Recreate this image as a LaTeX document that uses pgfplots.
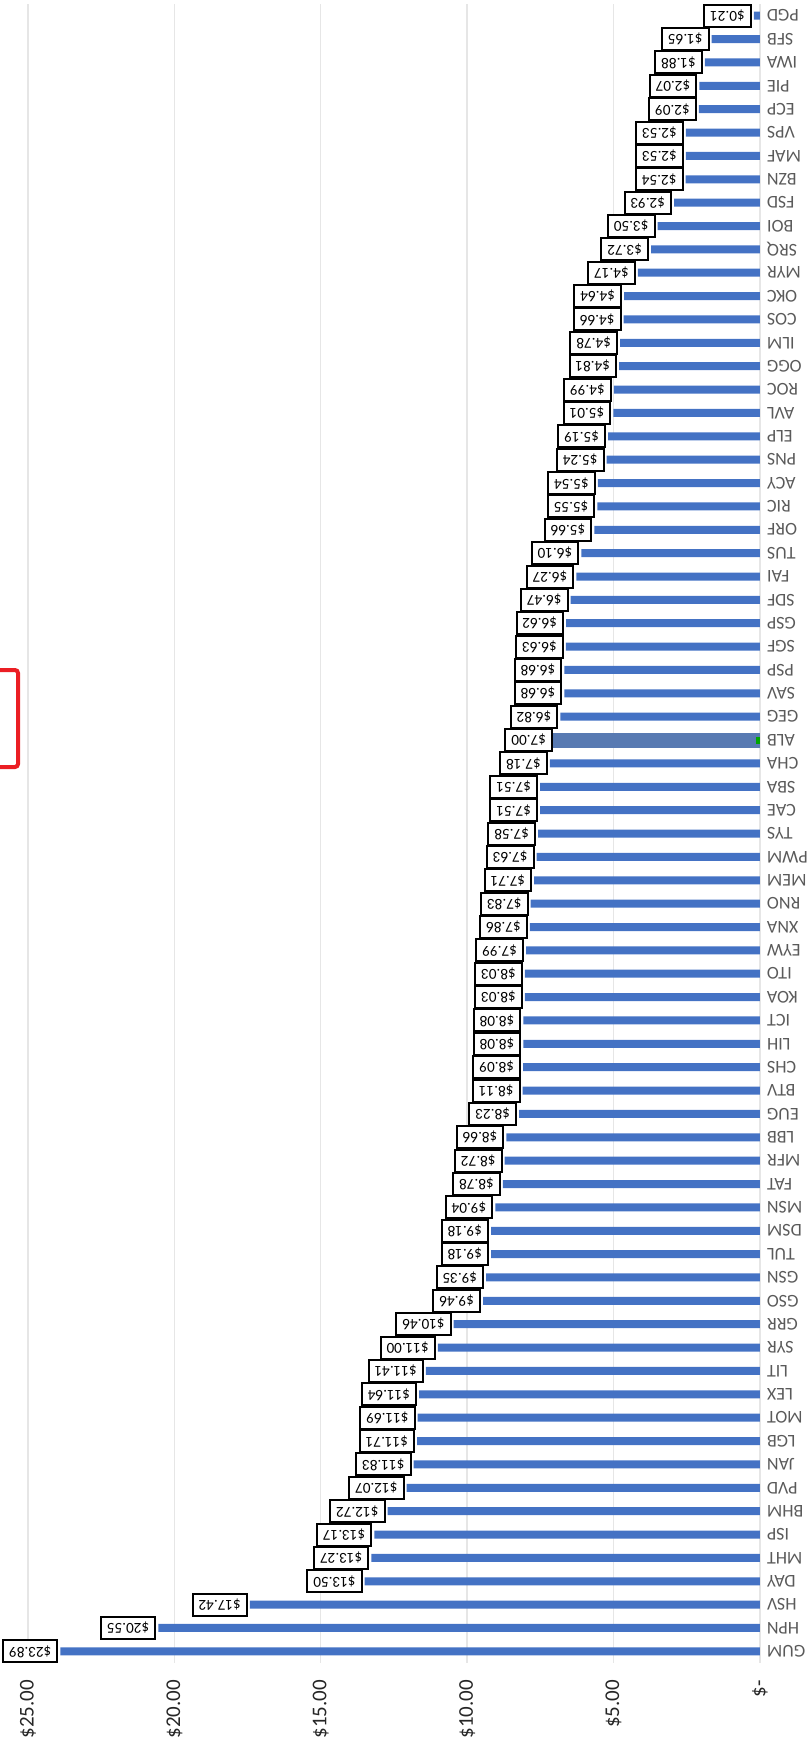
\documentclass[border=0pt]{standalone}
\usepackage{pgfplots}
\pgfplotsset{compat=1.18}
\usepackage{pgfplotstable}
\usepackage{fontspec}
\setmainfont{Carlito}
\definecolor{barblue}{RGB}{68,114,196}
\definecolor{albbar}{RGB}{88,122,178}
\definecolor{catgray}{RGB}{90,90,90}
\definecolor{gridgray}{RGB}{230,230,230}
\definecolor{markred}{RGB}{235,30,36}

\pgfplotstableread{
idx val name
1 0.21 PGD
2 1.65 SFB
3 1.88 IWA
4 2.07 PIE
5 2.09 ECP
6 2.53 VPS
7 2.53 MAF
8 2.54 BZN
9 2.93 FSD
10 3.50 BOI
11 3.72 SRQ
12 4.17 MYR
13 4.64 OKC
14 4.66 COS
15 4.78 ILM
16 4.81 OGG
17 4.99 ROC
18 5.01 AVL
19 5.19 ELP
20 5.24 PNS
21 5.54 ACY
22 5.55 RIC
23 5.66 ORF
24 6.10 TUS
25 6.27 FAI
26 6.47 SDF
27 6.62 GSP
28 6.63 SGF
29 6.68 PSP
30 6.68 SAV
31 6.82 GEG
32 7.00 ALB
33 7.18 CHA
34 7.51 SBA
35 7.51 CAE
36 7.58 TYS
37 7.63 PWM
38 7.71 MEM
39 7.83 RNO
40 7.86 XNA
41 7.99 EYW
42 8.03 ITO
43 8.03 KOA
44 8.08 ICT
45 8.08 LIH
46 8.09 CHS
47 8.11 BTV
48 8.23 EUG
49 8.66 LBB
50 8.72 MFR
51 8.78 FAT
52 9.04 MSN
53 9.18 DSM
54 9.18 TUL
55 9.35 GSN
56 9.46 GSO
57 10.46 GRR
58 11.00 SYR
59 11.41 LIT
60 11.64 LEX
61 11.69 MOT
62 11.71 LGB
63 11.83 JAN
64 12.07 PVD
65 12.72 BHM
66 13.17 ISP
67 13.27 MHT
68 13.50 DAY
69 17.42 HSV
70 20.55 HPN
71 23.89 GUM
}\data

\begin{document}
\begin{tikzpicture}
\useasboundingbox (0,0) rectangle (404.5pt,-876.5pt);
\begin{axis}[
  at={(197pt,-416.75pt)}, anchor=center,
  scale only axis, width=366pt, height=829.5pt,
  xmin=0, xmax=25, ymin=0.5, ymax=71.5,
  x dir=reverse, y dir=reverse,
  axis line style={draw=none},
  tick style={draw=none},
  xmajorgrids, grid style={gridgray, line width=0.7pt},
  xtick={0,5,10,15,20,25},
  xticklabels={\$-,\$5.00,\$10.00,\$15.00,\$20.00,\$25.00},
  xticklabel style={rotate=90, anchor=east, font=\fontsize{10.5}{12}\selectfont, text=black!85},
  xticklabel shift=5pt,
  ytick={1,...,71},
  yticklabels from table={\data}{name},
  yticklabel pos=right,
  yticklabel style={rotate=180, anchor=east, font=\fontsize{9}{10}\selectfont, text=catgray},
  yticklabel shift=0pt,
  /pgf/number format/assume math mode=true,
  clip=false,
]
\addplot[xbar, bar shift=0pt, bar width=4pt, fill=barblue, draw=none,
  point meta=x,
  nodes near coords={\$\pgfmathprintnumber[fixed,fixed zerofill,precision=2]{\pgfplotspointmeta}},
  every node near coord/.append style={rotate=180, anchor=west, draw=black, line width=1pt,
     fill=white, text=black, font=\fontsize{7.6}{8}\selectfont, inner xsep=3pt, inner ysep=0pt,
     minimum height=11pt, outer xsep=1.5pt},
] table[x=val, y=idx] {\data};
\addplot[xbar, bar shift=0pt, bar width=7.5pt, fill=albbar, draw=none] coordinates {(7.5,32)};
\addplot[xbar, bar shift=0pt, bar width=3.5pt, fill=green!65!black, draw=none] coordinates {(0.12,32)};
\end{axis}
\draw[markred, line width=2pt, rounded corners=1.5pt] (-10pt,-335pt) rectangle (9pt,-383.5pt);
\end{tikzpicture}
\end{document}
